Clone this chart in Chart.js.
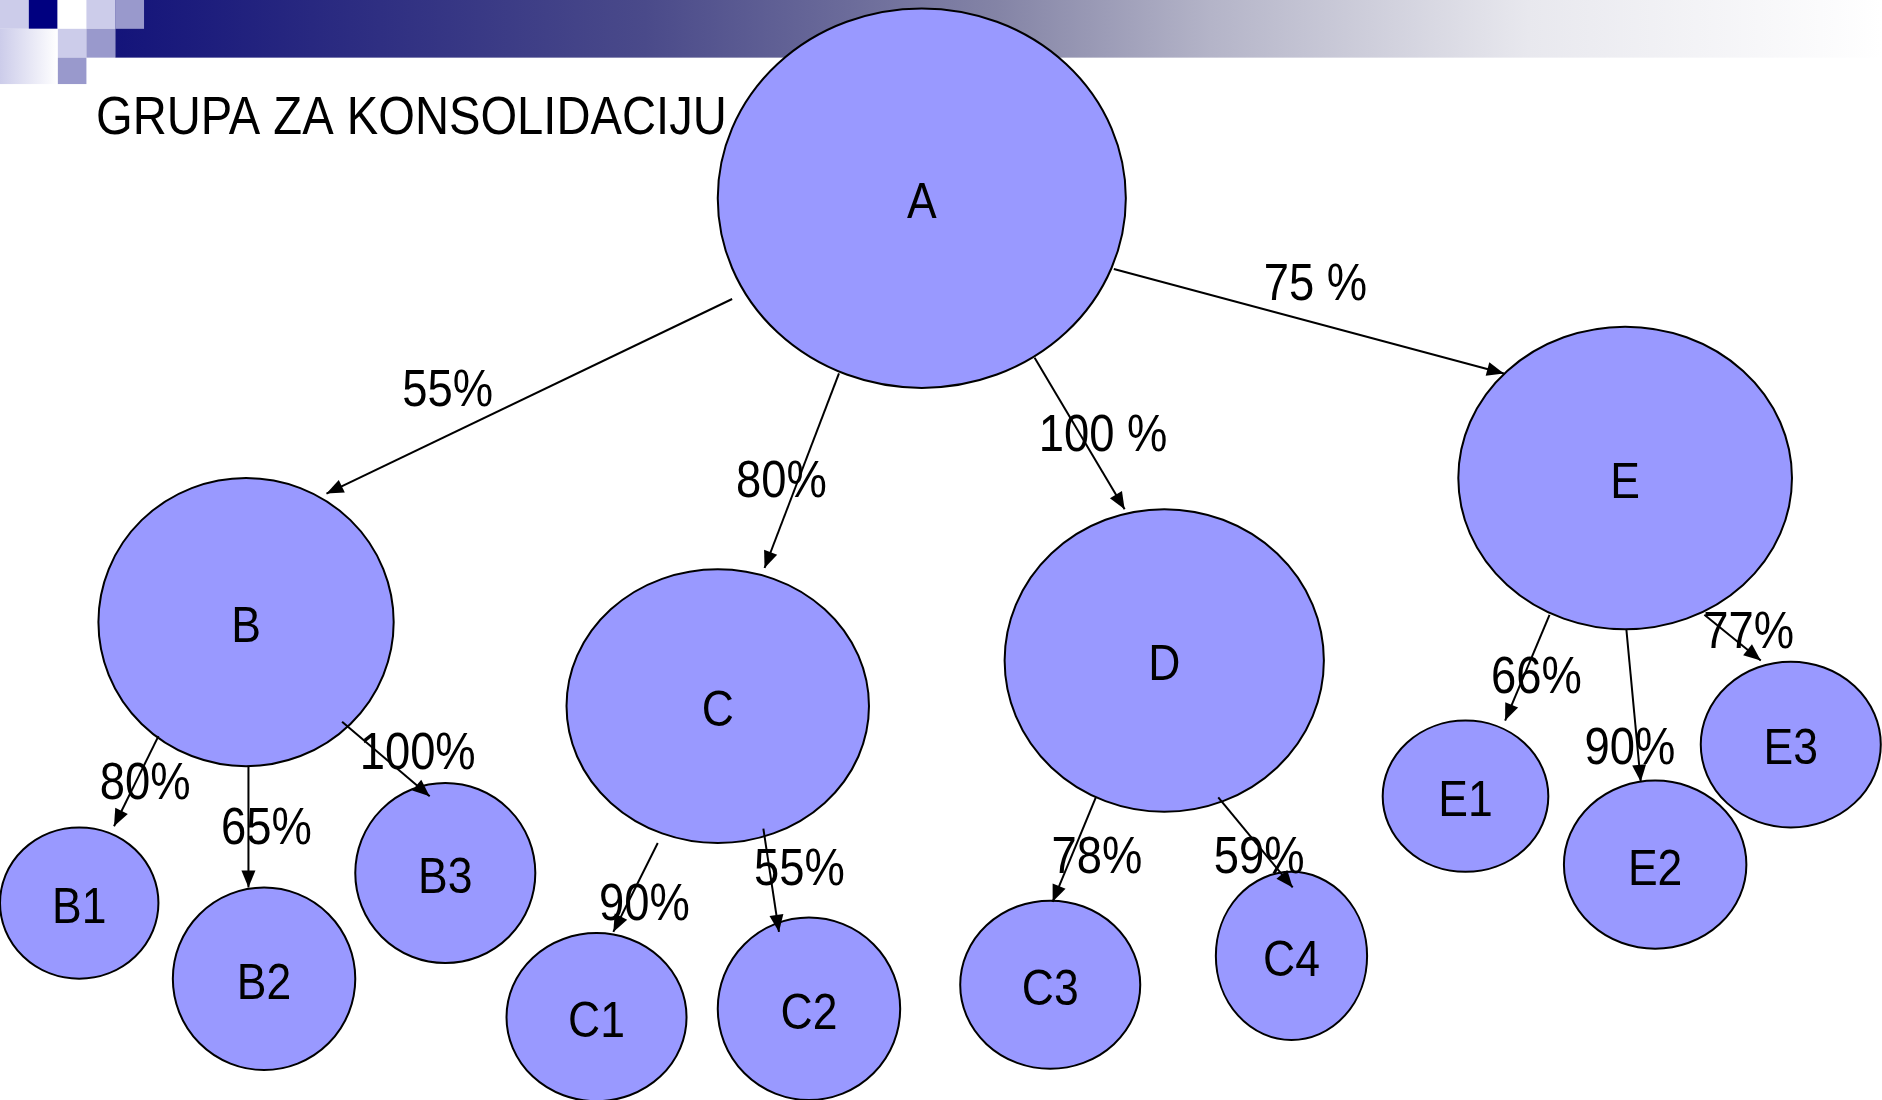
<!DOCTYPE html>
<html>
<head>
<meta charset="utf-8">
<script src="https://cdn.jsdelivr.net/npm/chart.js@4.4.0/dist/chart.umd.min.js"></script>
<style>
    body { margin: 0; background: #ffffff; overflow: hidden; }
    #diagram { display: block; }
</style>
</head>
<body>
<canvas id="diagram" width="1882" height="1100"></canvas>
<script>
// узлы схемы (центр и полуоси в единицах осей)
const nodeNames = ['A', 'B', 'C', 'D', 'E', 'B1', 'B2', 'B3', 'C1', 'C2', 'C3', 'C4', 'E1', 'E2', 'E3'];
const nodeX = [768, 205, 598, 970, 1354, 66, 220, 371, 497, 674, 875, 1076, 1221, 1379, 1492];
const nodeY = [165, 518, 588, 550, 398, 752, 815, 727, 847, 840, 820, 796, 663, 720, 620];
const nodeRx = [170, 123, 126, 133, 139, 66, 76, 75, 75, 76, 75, 63, 69, 76, 75];
const nodeRy = [158, 120, 114, 126, 126, 63, 76, 75, 70, 76, 70, 70, 63, 70, 69];

// стрелки: начало, конец, подпись с процентом
const edgeX1 = [610, 699, 862, 928, 132, 207, 285, 548, 636, 913, 1015, 1291, 1355, 1420];
const edgeY1 = [249, 311, 298, 224, 613, 638, 601, 702, 690, 664, 664, 512, 524, 512];
const edgeX2 = [272, 637, 937, 1253, 95, 207, 358, 511, 649, 877, 1077, 1254, 1367, 1467];
const edgeY2 = [411, 473, 424, 311, 688, 739, 663, 776, 776, 751, 739, 600, 651, 550];
const edgeLabels = ['55%', '80%', '100 %', '75 %', '80%', '65%', '100%', '90%', '55%', '78%', '59%', '66%', '90%', '77%'];
const labelX = [373, 651, 919, 1096, 121, 222, 348, 537, 666, 914, 1049, 1280, 1358, 1457];
const labelY = [323, 399, 360, 235, 650, 688, 625, 751, 722, 712, 712, 562, 621, 524];

const titleText = 'GRUPA ZA KONSOLIDACIJU';

const fillColor = '#9999ff';
const lineColor = '#000000';
const fontName = '"Liberation Sans", Arial, sans-serif';

function drawText(ctx, text, x, y, size, align) {
    ctx.save();
    ctx.font = size + 'px ' + fontName;
    ctx.fillStyle = '#000000';
    ctx.textAlign = align;
    ctx.textBaseline = 'alphabetic';
    ctx.translate(x, y + size * 0.358);
    ctx.scale(0.89, 1);
    ctx.fillText(text, 0, 0);
    ctx.restore();
}

// шапка слайда: квадраты и градиентная полоса
const headerPlugin = {
    id: 'header',
    beforeDraw(chart) {
        const ctx = chart.ctx;
        const xs = chart.scales.x;
        const ys = chart.scales.y;
        const px = v => xs.getPixelForValue(v);
        const py = v => ys.getPixelForValue(v);

        ctx.save();
        const grad = ctx.createLinearGradient(px(96), 0, px(1568), 0);
        grad.addColorStop(0, '#14147a');
        grad.addColorStop(0.3, '#4a4a8a');
        grad.addColorStop(0.5, '#8484a6');
        grad.addColorStop(0.62, '#b4b4c8');
        grad.addColorStop(0.8, '#e8e8ee');
        grad.addColorStop(1, '#ffffff');
        ctx.fillStyle = grad;
        ctx.fillRect(px(96), py(0), px(1568) - px(96), py(48) - py(0));

        let side = function (color, x, y, w, h) {
            ctx.fillStyle = color;
            ctx.fillRect(px(x), py(y), px(x + w) - px(x), py(y + h) - py(y));
        };
        side('#ccccea', 0, 0, 24, 24);
        side('#000080', 24, 0, 24, 24);
        side('#ffffff', 48, 0, 24, 24);
        side('#ccccea', 72, 0, 24, 24);
        side('#9999cc', 96, 0, 24, 24);
        side('#ccccea', 48, 24, 24, 24);
        side('#9999cc', 72, 24, 24, 24);
        side('#9999cc', 48, 48, 24, 22);

        const g2 = ctx.createLinearGradient(px(0), 0, px(48), 0);
        g2.addColorStop(0, '#ccccea');
        g2.addColorStop(1, '#ffffff');
        ctx.fillStyle = g2;
        ctx.fillRect(px(0), py(24), px(48) - px(0), py(70) - py(24));
        ctx.restore();
    }
};

// эллипсы узлов
const nodesPlugin = {
    id: 'nodes',
    beforeDatasetsDraw(chart) {
        const ctx = chart.ctx;
        const xs = chart.scales.x;
        const ys = chart.scales.y;
        const meta = chart.getDatasetMeta(0);
        ctx.save();
        meta.data.forEach(function (pt, i) {
            const rx = Math.abs(xs.getPixelForValue(nodeX[i] + nodeRx[i]) - pt.x);
            const ry = Math.abs(ys.getPixelForValue(nodeY[i] + nodeRy[i]) - pt.y);
            ctx.beginPath();
            ctx.ellipse(pt.x, pt.y, rx, ry, 0, 0, Math.PI * 2);
            ctx.fillStyle = fillColor;
            ctx.fill();
            ctx.lineWidth = 2;
            ctx.strokeStyle = lineColor;
            ctx.stroke();
        });
        ctx.restore();
    },
    afterDatasetsDraw(chart) {
        const ctx = chart.ctx;
        const xs = chart.scales.x;
        const ys = chart.scales.y;

        // наконечники стрелок
        for (let i = 0; i < edgeLabels.length; i++) {
            const m = chart.getDatasetMeta(i + 1).data;
            const a = m[0], b = m[1];
            const ang = Math.atan2(b.y - a.y, b.x - a.x);
            const len = 17, half = 7;
            ctx.save();
            ctx.fillStyle = lineColor;
            ctx.beginPath();
            ctx.moveTo(b.x, b.y);
            ctx.lineTo(b.x - len * Math.cos(ang) + half * Math.sin(ang), b.y - len * Math.sin(ang) - half * Math.cos(ang));
            ctx.lineTo(b.x - len * Math.cos(ang) - half * Math.sin(ang), b.y - len * Math.sin(ang) + half * Math.cos(ang));
            ctx.closePath();
            ctx.fill();
            ctx.restore();
        }

        // подписи узлов
        chart.getDatasetMeta(0).data.forEach(function (pt, i) {
            drawText(ctx, nodeNames[i], pt.x, pt.y + 2, 50, 'center');
        });

        // проценты
        for (let i = 0; i < edgeLabels.length; i++) {
            drawText(ctx, edgeLabels[i], xs.getPixelForValue(labelX[i]), ys.getPixelForValue(labelY[i]), 51, 'center');
        }

        drawText(ctx, titleText, xs.getPixelForValue(80), ys.getPixelForValue(96), 53, 'left');
    }
};

function buildDatasets() {
    let datasets = [{
        label: 'nodes',
        data: nodeNames.map((n, i) => ({x: nodeX[i], y: nodeY[i]})),
        pointRadius: 0,
        showLine: false
    }];
    for (let i = 0; i < edgeLabels.length; i++) {
        datasets.push({
            label: edgeLabels[i],
            data: [{x: edgeX1[i], y: edgeY1[i]}, {x: edgeX2[i], y: edgeY2[i]}],
            showLine: true,
            borderColor: lineColor,
            borderWidth: 2,
            pointRadius: 0,
            fill: false
        });
    }
    return datasets;
}

const ctxDiagram = document.getElementById('diagram').getContext('2d');
const diagram = new Chart(ctxDiagram, {
    type: 'scatter',
    data: { datasets: buildDatasets() },
    options: {
        responsive: false,
        animation: false,
        devicePixelRatio: 1,
        layout: { padding: 0 },
        scales: {
            x: { type: 'linear', min: 0, max: 1568, display: false },
            y: { type: 'linear', min: 0, max: 916, reverse: true, display: false }
        },
        plugins: {
            legend: { display: false },
            tooltip: { enabled: false }
        }
    },
    plugins: [headerPlugin, nodesPlugin]
});
</script>
</body>
</html>
